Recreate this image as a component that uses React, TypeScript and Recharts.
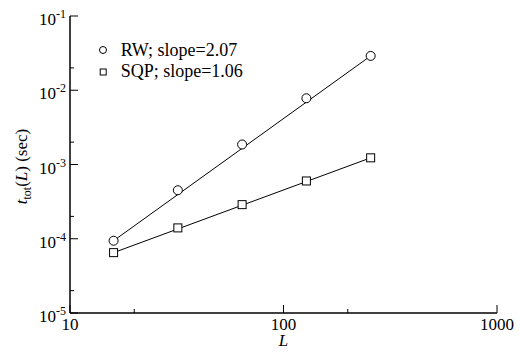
import { ScatterChart, Scatter, XAxis, YAxis, Legend, Label } from "recharts"

// system sizes L and total run time (sec)
const lValues = [16, 32, 64, 128, 256]
const rwTimes = [9.4e-5, 4.5e-4, 1.86e-3, 7.8e-3, 2.9e-2]
const sqpTimes = [6.5e-5, 1.4e-4, 2.88e-4, 6.0e-4, 1.23e-3]

// power-law fits, drawn between the end points
const fitL = [16, 256]
const rwFit = [9.4e-5, 2.9e-2]
const sqpFit = [6.5e-5, 1.23e-3]

const xTicks = [10, 20, 100, 200, 1000]
const yTicks = [1e-5, 2e-5, 1e-4, 2e-4, 1e-3, 2e-3, 1e-2, 2e-2, 1e-1]

const legendLabels = ["RW; slope=2.07", "SQP; slope=1.06"]

const rwData = lValues.map((L, i) => ({ L, t: rwTimes[i] }))
const sqpData = lValues.map((L, i) => ({ L, t: sqpTimes[i] }))
const rwFitData = fitL.map((L, i) => ({ L, t: rwFit[i] }))
const sqpFitData = fitL.map((L, i) => ({ L, t: sqpFit[i] }))

const serif = { fontFamily: "Liberation Serif" }

const isMajor = (v: number) => {
  const lg = Math.log10(v)
  return Math.abs(lg - Math.round(lg)) < 1e-6
}

const xTick = (side: "bottom" | "top") => (props: any) => {
  const { x, y, payload } = props
  const major = isMajor(payload.value)
  const len = major ? 8 : 4
  const dir = side === "bottom" ? -1 : 1
  return (
    <g>
      <line x1={x} x2={x} y1={y} y2={y + dir * len} stroke="#000" strokeWidth={1} />
      {side === "bottom" && major && (
        <text x={x} y={y + 17} textAnchor="middle" fontSize={17} style={serif} fill="#000">
          {payload.value}
        </text>
      )}
    </g>
  )
}

const yTick = (side: "left" | "right") => (props: any) => {
  const { x, y, payload } = props
  const major = isMajor(payload.value)
  const len = major ? 8 : 4
  const dir = side === "left" ? 1 : -1
  const exp = Math.round(Math.log10(payload.value))
  return (
    <g>
      <line x1={x} x2={x + dir * len} y1={y} y2={y} stroke="#000" strokeWidth={1} />
      {side === "left" && major && (
        <text x={x - 4} y={y + 9} textAnchor="end" fontSize={17} style={serif} fill="#000">
          10
          <tspan fontSize={12} dy={-7}>
            {exp}
          </tspan>
        </text>
      )}
    </g>
  )
}

const circle = (props: any) => (
  <circle cx={props.cx} cy={props.cy} r={4.5} fill="#fff" stroke="#000" strokeWidth={1} />
)

const square = (props: any) => (
  <rect x={props.cx - 4} y={props.cy - 4} width={8} height={8} fill="#fff" stroke="#000" strokeWidth={1} />
)

const noShape = () => <g />

const legendBox = () => (
  <svg width={200} height={50} style={{ display: "block" }}>
    <circle cx={8} cy={12} r={3.5} fill="none" stroke="#000" strokeWidth={1} />
    <text x={25.7} y={18} fontSize={18} style={serif} fill="#000">
      {legendLabels[0]}
    </text>
    <rect x={5.2} y={31} width={6} height={6} fill="none" stroke="#000" strokeWidth={1} />
    <text x={25.7} y={39} fontSize={18} style={serif} fill="#000">
      {legendLabels[1]}
    </text>
  </svg>
)

export default function App() {
  return (
    <div style={{ position: "absolute", left: 0, top: 0, background: "#fff" }}>
      <ScatterChart
        width={521}
        height={356}
        margin={{ top: 16, right: 24, bottom: 0, left: 0 }}
        style={serif}
      >
        <XAxis
          xAxisId="b"
          dataKey="L"
          type="number"
          scale="log"
          domain={[10, 1000]}
          ticks={xTicks}
          interval={0}
          orientation="bottom"
          height={43}
          tickSize={0}
          tickMargin={0}
          tick={xTick("bottom")}
          axisLine={{ stroke: "#000", strokeWidth: 1.5 }}
          allowDataOverflow
        >
          <Label
            content={(p: any) => {
              const vb = p.viewBox
              return (
                <text
                  x={vb.x + vb.width / 2}
                  y={vb.y + 33}
                  textAnchor="middle"
                  fontSize={17}
                  fontStyle="italic"
                  style={serif}
                  fill="#000"
                >
                  L
                </text>
              )
            }}
          />
        </XAxis>
        <XAxis
          xAxisId="t"
          dataKey="L"
          type="number"
          scale="log"
          domain={[10, 1000]}
          ticks={xTicks}
          interval={0}
          orientation="top"
          height={0}
          tickSize={0}
          tickMargin={0}
          tick={xTick("top")}
          axisLine={{ stroke: "#000", strokeWidth: 1.5 }}
          allowDataOverflow
        />
        <YAxis
          yAxisId="l"
          dataKey="t"
          type="number"
          scale="log"
          domain={[1e-5, 1e-1]}
          ticks={yTicks}
          interval={0}
          orientation="left"
          width={70}
          tickSize={0}
          tickMargin={0}
          tick={yTick("left")}
          axisLine={{ stroke: "#000", strokeWidth: 1.5 }}
          allowDataOverflow
        >
          <Label
            content={(p: any) => {
              const vb = p.viewBox
              const cx = 27
              const cy = vb.y + vb.height / 2 + 2
              return (
                <text
                  x={cx}
                  y={cy}
                  transform={`rotate(-90, ${cx}, ${cy})`}
                  textAnchor="middle"
                  fontSize={17}
                  style={serif}
                  fill="#000"
                >
                  <tspan fontStyle="italic">t</tspan>
                  <tspan fontSize={12} dy={4}>tot</tspan>
                  <tspan dy={-4}>(</tspan>
                  <tspan fontStyle="italic">L</tspan>
                  <tspan>) (sec)</tspan>
                </text>
              )
            }}
          />
        </YAxis>
        <YAxis
          yAxisId="r"
          dataKey="t"
          type="number"
          scale="log"
          domain={[1e-5, 1e-1]}
          ticks={yTicks}
          interval={0}
          orientation="right"
          width={0}
          tickSize={0}
          tickMargin={0}
          tick={yTick("right")}
          axisLine={{ stroke: "#000", strokeWidth: 1.5 }}
          allowDataOverflow
        />
        <Scatter
          xAxisId="b"
          yAxisId="l"
          data={rwFitData}
          line={{ stroke: "#000", strokeWidth: 1 }}
          shape={noShape}
          isAnimationActive={false}
        />
        <Scatter
          xAxisId="b"
          yAxisId="l"
          data={sqpFitData}
          line={{ stroke: "#000", strokeWidth: 1 }}
          shape={noShape}
          isAnimationActive={false}
        />
        <Scatter
          xAxisId="b"
          yAxisId="l"
          data={rwData}
          shape={circle}
          isAnimationActive={false}
        />
        <Scatter
          xAxisId="b"
          yAxisId="l"
          data={sqpData}
          shape={square}
          isAnimationActive={false}
        />
        <Legend
          layout="vertical"
          align="center"
          verticalAlign="middle"
          content={legendBox}
          wrapperStyle={{ position: "absolute", left: 95, top: 38, width: 200, height: 50 }}
        />
      </ScatterChart>
    </div>
  )
}
